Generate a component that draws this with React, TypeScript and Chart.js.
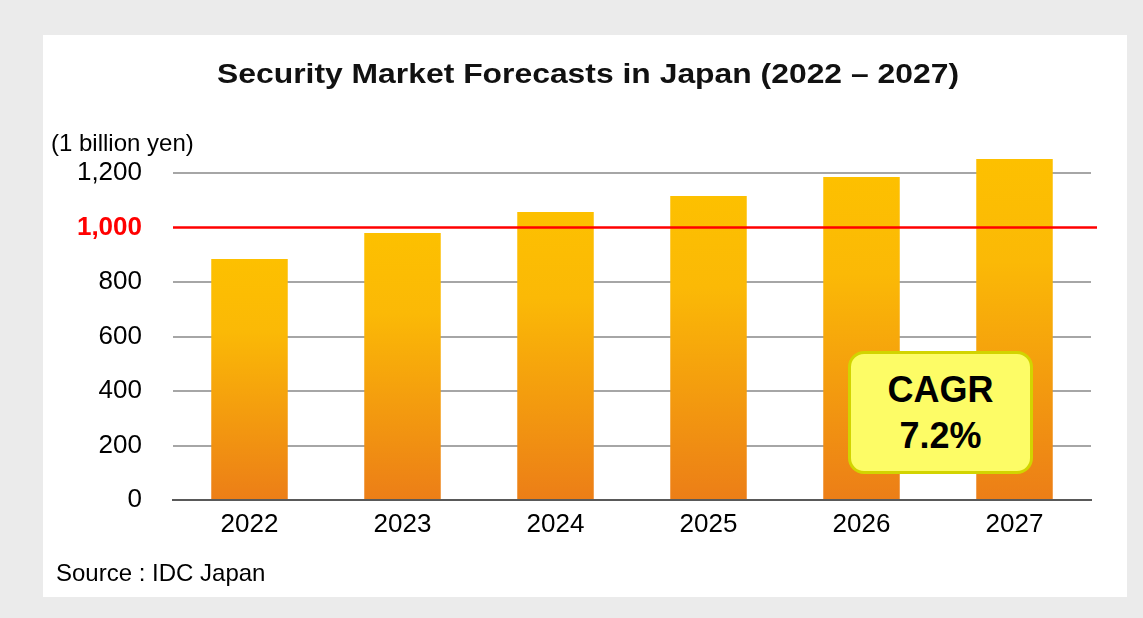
import React, { useEffect, useRef } from "react";
import { Chart, registerables } from "chart.js";

Chart.register(...registerables);

const categories = ["2022", "2023", "2024", "2025", "2026", "2027"];
const marketValues = [884, 980, 1057, 1116, 1185, 1251];
const yMin = 0;
const yMax = 1200;
const yStep = 200;
const referenceValue = 1000;
const titleText = "Security Market Forecasts in Japan (2022 \u2013 2027)";
const unitText = "(1 billion yen)";
const sourceText = "Source : IDC Japan";
const cagrLines = ["CAGR", "7.2%"];

const FONT = '"Liberation Sans", Arial, Helvetica, sans-serif';

const refLinePlugin = {
  id: "refLine",
  afterDatasetsDraw(chart: any) {
    const { ctx, chartArea, scales } = chart;
    const y = scales.y.getPixelForValue(referenceValue);
    ctx.save();
    ctx.strokeStyle = "#ff0000";
    ctx.lineWidth = 2.5;
    ctx.beginPath();
    ctx.moveTo(chartArea.left, y);
    ctx.lineTo(chartArea.right + 6, y);
    ctx.stroke();
    ctx.restore();
  },
};

export default function App() {
  const canvasRef = useRef<HTMLCanvasElement | null>(null);

  useEffect(() => {
    if (!canvasRef.current) return;
    const chart = new Chart(canvasRef.current, {
      type: "bar",
      data: {
        labels: categories,
        datasets: [
          {
            data: marketValues,
            clip: false,
            backgroundColor: (c: any) => {
              const ch = c.chart;
              const ys = ch.scales && ch.scales.y;
              if (!ch.chartArea || !ys || c.dataIndex == null) return "#f5a00c";
              const top = ys.getPixelForValue(marketValues[c.dataIndex]);
              const bottom = ys.getPixelForValue(0);
              if (!isFinite(top) || !isFinite(bottom) || top === bottom) return "#f5a00c";
              const g = ch.ctx.createLinearGradient(0, top, 0, bottom);
              g.addColorStop(0, "#fdc000");
              g.addColorStop(0.3, "#fbb906");
              g.addColorStop(1, "#ec7e17");
              return g;
            },
            borderWidth: 0,
            categoryPercentage: 1,
            barPercentage: 0.5,
          },
        ],
      },
      options: {
        responsive: false,
        animation: false,
        devicePixelRatio: 1,
        layout: { padding: { top: 138, right: 36, left: 0, bottom: 0 } },
        plugins: {
          legend: { display: false },
          tooltip: { enabled: false },
          title: { display: false },
        },
        scales: {
          x: {
            grid: { display: false, drawTicks: false },
            border: { display: true, color: "#595959", width: 2 },
            ticks: {
              color: "#000",
              font: { family: FONT, size: 26 },
              padding: 9,
            },
            afterFit: (s: any) => {
              s.height = 97;
            },
          },
          y: {
            min: yMin,
            max: yMax,
            ticks: {
              stepSize: yStep,
              padding: 31,
              color: (c: any) => (c.tick && c.tick.value === referenceValue ? "#ff0000" : "#000"),
              font: (c: any) => ({
                family: FONT,
                size: 26,
                weight: c.tick && c.tick.value === referenceValue ? "bold" : "normal",
              }),
              callback: (v: any) => Number(v).toLocaleString("en-US"),
            },
            grid: {
              drawTicks: false,
              lineWidth: 2,
              color: (c: any) =>
                c.tick && c.tick.value === 0
                  ? "#595959"
                  : c.tick && c.tick.value === referenceValue
                  ? "rgba(0,0,0,0)"
                  : "#a6a6a6",
            },
            border: { display: false },
            afterFit: (s: any) => {
              s.width = 130;
            },
          },
        },
      },
      plugins: [refLinePlugin],
    } as any);
    chart.update();
    return () => chart.destroy();
  }, []);

  return (
    <div
      style={{
        position: "fixed",
        left: 0,
        top: 0,
        width: 1143,
        height: 618,
        background: "#ebebeb",
        fontFamily: FONT,
        overflow: "hidden",
      }}
    >
      <div
        style={{
          position: "absolute",
          left: 43,
          top: 35,
          width: 1084,
          height: 562,
          background: "#ffffff",
        }}
      >
        <canvas ref={canvasRef} width={1084} height={562} style={{ display: "block" }} />
      </div>
      <div
        style={{
          position: "absolute",
          left: 588,
          top: 59,
          lineHeight: "30px",
          fontSize: 27,
          fontWeight: "bold",
          color: "#111",
          whiteSpace: "nowrap",
          transform: "translateX(-50%) scaleX(1.18)",
          transformOrigin: "50% 50%",
        }}
      >
        {titleText}
      </div>
      <div
        style={{
          position: "absolute",
          left: 51,
          top: 129,
          lineHeight: "28px",
          fontSize: 24,
          color: "#000",
          whiteSpace: "nowrap",
        }}
      >
        {unitText}
      </div>
      <div
        style={{
          position: "absolute",
          left: 56,
          top: 559,
          lineHeight: "28px",
          fontSize: 24,
          color: "#000",
          whiteSpace: "nowrap",
        }}
      >
        {sourceText}
      </div>
      <div
        style={{
          position: "absolute",
          left: 848,
          top: 351,
          width: 185,
          height: 123,
          boxSizing: "border-box",
          border: "3px solid #d2d400",
          borderRadius: 16,
          background: "#fdfc66",
          display: "flex",
          flexDirection: "column",
          alignItems: "center",
          justifyContent: "center",
          fontSize: 36,
          fontWeight: "bold",
          lineHeight: "46px",
          color: "#000",
        }}
      >
        {cagrLines.map((t) => (
          <div key={t}>{t}</div>
        ))}
      </div>
    </div>
  );
}
